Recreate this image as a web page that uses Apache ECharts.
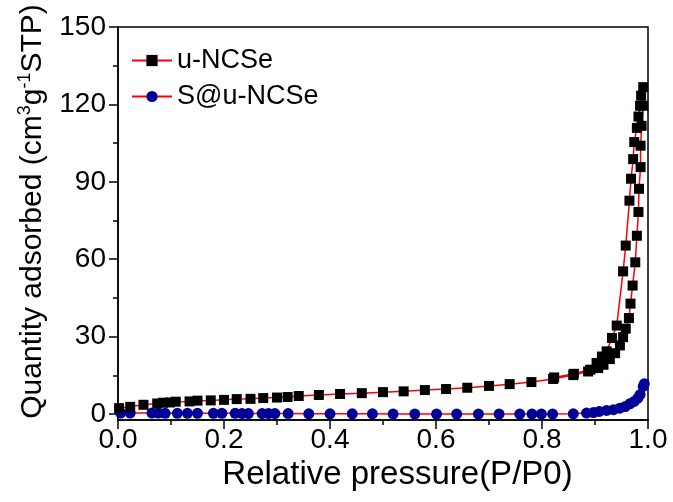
<!DOCTYPE html>
<html>
<head>
<meta charset="utf-8">
<script src="https://cdn.jsdelivr.net/npm/echarts@6/dist/echarts.min.js"></script>
<style>html,body{margin:0;padding:0;background:#fff;}#c{width:673px;height:502px;}</style>
</head>
<body>
<div id="c"></div>
<script>
// u-NCSe adsorption branch
const uAdsX = [0.002,0.023,0.048,0.074,0.085,0.098,0.109,0.135,0.150,0.175,0.200,0.224,0.250,0.274,0.300,0.320,0.341,0.379,0.419,0.460,0.500,0.539,0.579,0.619,0.659,0.700,0.739,0.780,0.821,0.859,0.887,0.906,0.916,0.928,0.938,0.947,0.953,0.958,0.964,0.967,0.971,0.976,0.979,0.982,0.983,0.986,0.986,0.988,0.991,0.991];
const uAdsY = [2.3,2.8,3.6,4.1,4.4,4.5,4.8,4.9,5.2,5.3,5.5,5.8,5.9,6.2,6.4,6.6,7.0,7.4,7.8,8.1,8.5,8.8,9.3,9.7,10.2,10.9,11.6,12.4,13.6,15.1,16.5,17.8,19.1,21.3,23.6,26.6,29.8,33.1,37.2,42.8,49.8,58.8,69.1,78.3,87.3,95.7,104.0,111.7,119.5,126.7];
// u-NCSe desorption branch
const uDesX = [0.987,0.985,0.982,0.979,0.974,0.972,0.968,0.965,0.958,0.953,0.941,0.932,0.922,0.913,0.903,0.891,0.860,0.823];
const uDesY = [123.4,119.5,115.3,110.9,105.4,98.8,91.2,82.7,65.3,55.3,34.3,29.5,24.3,22.3,19.8,17.2,15.6,14.2];
// S@u-NCSe
const sX = [0.005,0.023,0.064,0.076,0.089,0.112,0.131,0.150,0.180,0.196,0.221,0.234,0.246,0.272,0.284,0.296,0.321,0.360,0.400,0.442,0.480,0.519,0.560,0.601,0.639,0.680,0.719,0.758,0.781,0.799,0.820,0.859,0.884,0.897,0.908,0.922,0.935,0.947,0.957,0.966,0.974,0.981,0.985,0.991,0.993];
const sY = [0.4,0.4,0.4,0.4,0.3,0.3,0.3,0.3,0.3,0.3,0.3,0.2,0.2,0.2,0.2,0.2,0.2,0.1,0.1,0.1,0.1,0,0,0,0,0,0,0,0,0,0,0.1,0.4,0.6,1.0,1.4,1.7,2.3,2.9,4.0,4.9,6.2,7.5,10.7,11.7];
const yMajor = [0,30,60,90,120,150];
const yMinor = [15,45,75,105,135];
const seriesNames = ['u-NCSe','S@u-NCSe'];

const uData = uAdsX.map((x,i)=>[x,uAdsY[i]]).concat(uDesX.map((x,i)=>[x,uDesY[i]]));
const sData = sX.map((x,i)=>[x,sY[i]]);

const FONT = "'Liberation Sans', Arial, sans-serif";
const chart = echarts.init(document.getElementById('c'), null, {renderer:'canvas'});
chart.setOption({
  animation:false,
  backgroundColor:'#fff',
  grid:{left:118,right:25,top:27,bottom:82,show:true,borderColor:'#000',borderWidth:1.5,backgroundColor:'transparent'},
  legend:{
    orient:'vertical',left:126,top:42,itemWidth:40,itemHeight:14,itemGap:9,
    textStyle:{fontFamily:FONT,fontSize:27,color:'#000'},
    data:seriesNames
  },
  xAxis:{
    type:'value',min:0,max:1,interval:0.2,
    name:'Relative pressure(P/P0)',nameLocation:'middle',nameGap:35,
    nameTextStyle:{fontFamily:FONT,fontSize:33,color:'#000',padding:[0,0,0,29]},
    axisLine:{show:true,onZero:false,lineStyle:{color:'#000',width:1.5}},
    axisTick:{show:true,inside:false,length:9,lineStyle:{color:'#000',width:1.5}},
    minorTick:{show:true,splitNumber:2,length:5,lineStyle:{color:'#000',width:1.5}},
    axisLabel:{fontFamily:FONT,fontSize:28,color:'#000',margin:6,formatter:v=>v.toFixed(1)},
    splitLine:{show:false},minorSplitLine:{show:false}
  },
  yAxis:[{
    type:'value',min:-2.3,max:150,
    name:'{a|Quantity adsorbed (cm}{s|3}{a|g}{s|-1}{a|STP)}',nameLocation:'middle',nameGap:68,
    nameTextStyle:{fontFamily:FONT,color:'#000',padding:[0,0,0,24],rich:{
      a:{fontFamily:FONT,fontSize:30,color:'#000',lineHeight:34},
      s:{fontFamily:FONT,fontSize:18,color:'#000',verticalAlign:'top',lineHeight:34}
    }},
    axisLine:{show:true,onZero:false,lineStyle:{color:'#000',width:1.5}},
    axisTick:{show:true,inside:false,length:9,customValues:yMajor,lineStyle:{color:'#000',width:1.5}},
    axisLabel:{fontFamily:FONT,fontSize:28,color:'#000',margin:12,customValues:yMajor},
    splitLine:{show:false}
  },{
    type:'value',min:-2.3,max:150,position:'left',
    axisLine:{show:false},
    axisTick:{show:true,inside:false,length:5,customValues:yMinor,lineStyle:{color:'#000',width:1.5}},
    axisLabel:{show:false},
    splitLine:{show:false}
  }],
  series:[{
    name:seriesNames[0],type:'line',data:uData,symbol:'rect',symbolSize:10,
    lineStyle:{color:'#ff0000',width:1.5},itemStyle:{color:'#000'},z:3
  },{
    name:seriesNames[1],type:'line',data:sData,symbol:'circle',symbolSize:11,
    lineStyle:{color:'#ff0000',width:1.5},itemStyle:{color:'#000099'},z:2
  }]
});
</script>
</body>
</html>
